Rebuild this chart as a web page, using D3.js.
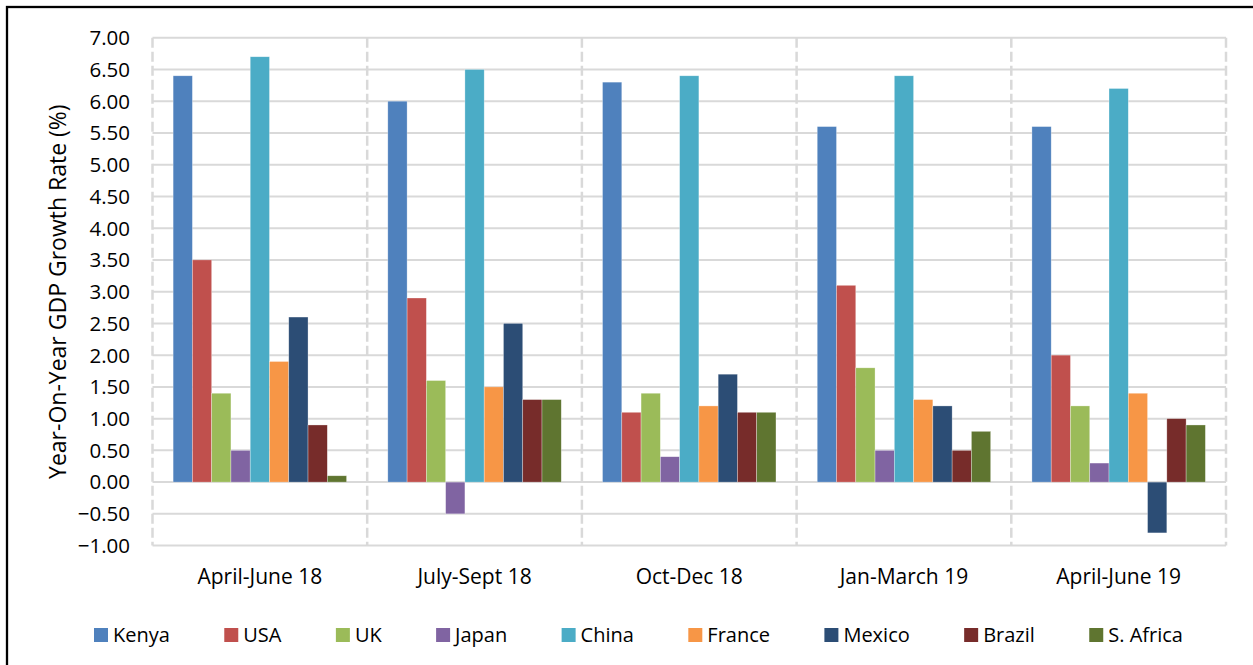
<!DOCTYPE html>
<html>
<head>
<meta charset="utf-8">
<script src="https://cdn.jsdelivr.net/npm/d3@7"></script>
<style>
  body { margin: 0; background: #fff; }
  svg { display: block; font-family: "Open Sans", sans-serif; }
</style>
</head>
<body>
<svg id="chart" width="1253" height="665"></svg>
<script>
// quarters on the x axis
const periods = ["April-June 18", "July-Sept 18", "Oct-Dec 18", "Jan-March 19", "April-June 19"];
const countries = ["Kenya", "USA", "UK", "Japan", "China", "France", "Mexico", "Brazil", "S. Africa"];
const colors = ["#4F81BD", "#C0504D", "#9BBB59", "#8064A2", "#4BACC6", "#F79646", "#2C4D75", "#772C2A", "#5F7530"];

// growth rate per country, one value per quarter
const kenya   = [6.4, 6.0, 6.3, 5.6, 5.6];
const usa     = [3.5, 2.9, 1.1, 3.1, 2.0];
const uk      = [1.4, 1.6, 1.4, 1.8, 1.2];
const japan   = [0.5, -0.5, 0.4, 0.5, 0.3];
const china   = [6.7, 6.5, 6.4, 6.4, 6.2];
const france  = [1.9, 1.5, 1.2, 1.3, 1.4];
const mexico  = [2.6, 2.5, 1.7, 1.2, -0.8];
const brazil  = [0.9, 1.3, 1.1, 0.5, 1.0];
const safrica = [0.1, 1.3, 1.1, 0.8, 0.9];
const series = [kenya, usa, uk, japan, china, france, mexico, brazil, safrica];

const yTicks = [-1, -0.5, 0, 0.5, 1, 1.5, 2, 2.5, 3, 3.5, 4, 4.5, 5, 5.5, 6, 6.5, 7];

const svg = d3.select("#chart");

/**
 * FRAME
 */
svg.append("rect")
  .attr("x", 7).attr("y", 7)
  .attr("width", 1300).attr("height", 700)
  .attr("fill", "none")
  .attr("stroke", "#000")
  .attr("stroke-width", 2.3);

/**
 * SCALES
 */
const x0 = d3.scaleBand().domain(periods).range([152.5, 1226]);
const x1 = d3.scaleBand().domain(countries).range([0, x0.bandwidth()]).paddingOuter(1.07);
const y = d3.scaleLinear().domain([-1, 7]).range([545.6, 37.7]);

/**
 * GRID
 */
svg.append("g")
  .selectAll("line")
  .data(yTicks)
  .join("line")
  .attr("x1", x0.range()[0]).attr("x2", x0.range()[1])
  .attr("y1", d => y(d)).attr("y2", d => y(d))
  .attr("stroke", "#D9D9D9")
  .attr("stroke-width", 2);

const edges = periods.map(p => x0(p)).concat([x0.range()[1]]);
svg.append("g")
  .selectAll("line")
  .data(edges)
  .join("line")
  .attr("x1", d => d).attr("x2", d => d)
  .attr("y1", y(7)).attr("y2", y(-1))
  .attr("stroke", "#D9D9D9")
  .attr("stroke-width", 2.5)
  .attr("stroke-dasharray", "10,4");

/**
 * BARS
 */
const cells = [];
series.forEach((vals, i) => {
  vals.forEach((v, j) => cells.push({ country: countries[i], period: periods[j], value: v, color: colors[i] }));
});

svg.append("g")
  .selectAll("rect")
  .data(cells)
  .join("rect")
  .attr("x", d => x0(d.period) + x1(d.country))
  .attr("width", x1.bandwidth())
  .attr("y", d => y(Math.max(0, d.value)))
  .attr("height", d => Math.abs(y(d.value) - y(0)))
  .attr("fill", d => d.color)
  .attr("stroke", "#fff")
  .attr("stroke-opacity", 0.5)
  .attr("stroke-width", 0.6);

/**
 * AXES TEXT
 */
svg.append("g")
  .selectAll("text")
  .data(yTicks)
  .join("text")
  .attr("x", 130)
  .attr("y", d => y(d))
  .attr("dy", "0.36em")
  .attr("text-anchor", "end")
  .attr("font-size", 20.5)
  .attr("fill", "#000")
  .text(d3.format(".2f"));

svg.append("g")
  .selectAll("text")
  .data(periods)
  .join("text")
  .attr("x", d => x0(d) + x0.bandwidth() / 2)
  .attr("y", 584)
  .attr("text-anchor", "middle")
  .attr("font-size", 21)
  .attr("fill", "#000")
  .text(d => d);

svg.append("text")
  .attr("transform", `translate(66,${(y(7) + y(-1)) / 2}) rotate(-90)`)
  .attr("text-anchor", "middle")
  .attr("font-size", 23)
  .attr("fill", "#000")
  .text("Year-On-Year GDP Growth Rate (%)");

/**
 * LEGEND
 */
const legend = svg.append("g");
let lx = 94;
countries.forEach((c, i) => {
  legend.append("rect")
    .attr("x", lx).attr("y", 628)
    .attr("width", 14).attr("height", 14)
    .attr("fill", colors[i]);
  const t = legend.append("text")
    .attr("x", lx + 19).attr("y", 642)
    .attr("font-size", 20)
    .attr("fill", "#000")
    .text(c);
  lx += 19 + t.node().getComputedTextLength() + 54.4;
});
</script>
</body>
</html>
